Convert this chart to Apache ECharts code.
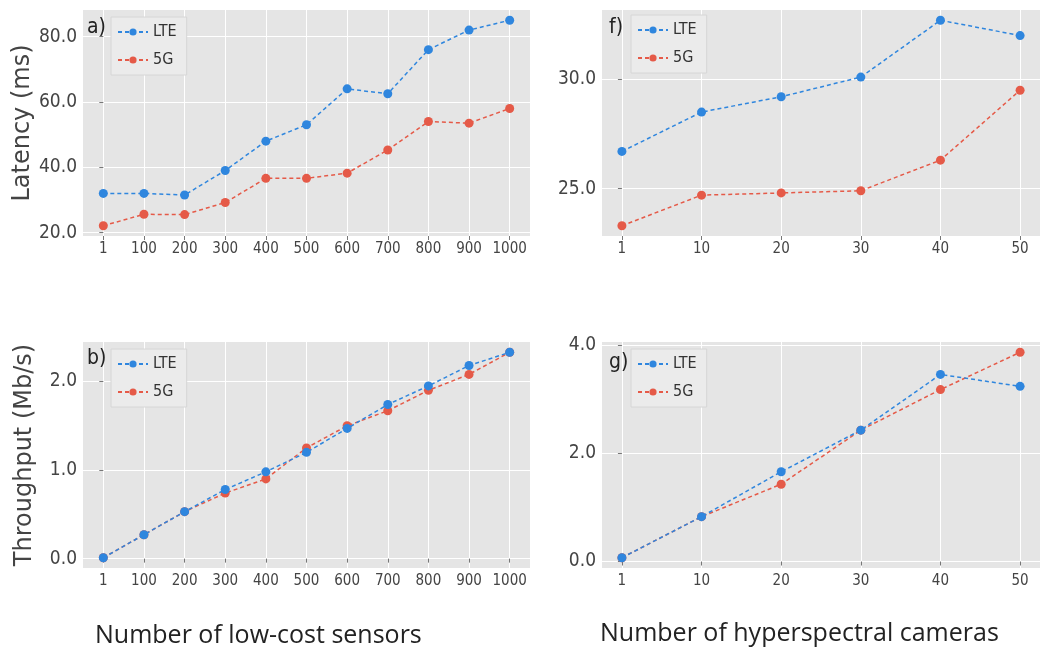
<!DOCTYPE html>
<html>
<head>
<meta charset="utf-8">
<script src="https://cdn.jsdelivr.net/npm/echarts@6/dist/echarts.min.js"></script>
<style>
html,body{margin:0;padding:0;background:#fff;}
#chart{width:1040px;height:652px;}
</style>
</head>
<body>
<div id="chart"></div>
<script>
// ---- data ----
const sensorLabels = ['1','100','200','300','400','500','600','700','800','900','1000'];
const cameraLabels = ['1','10','20','30','40','50'];

const latencySensorsLTE = [32.0, 32.0, 31.5, 39.0, 48.0, 53.0, 64.0, 62.5, 76.0, 82.0, 85.0];
const latencySensors5G  = [22.1, 25.6, 25.5, 29.2, 36.6, 36.6, 38.2, 45.3, 54.0, 53.5, 58.0];
const latencyCamerasLTE = [26.7, 28.5, 29.2, 30.1, 32.7, 32.0];
const latencyCameras5G  = [23.3, 24.7, 24.8, 24.9, 26.3, 29.5];

const thrSensorsLTE = [0.01, 0.27, 0.53, 0.78, 0.98, 1.20, 1.47, 1.74, 1.95, 2.18, 2.33];
const thrSensors5G  = [0.01, 0.27, 0.53, 0.74, 0.90, 1.25, 1.50, 1.67, 1.90, 2.08, 2.33];
const thrCamerasLTE = [0.07, 0.83, 1.66, 2.43, 3.46, 3.24];
const thrCameras5G  = [0.07, 0.83, 1.43, 2.43, 3.18, 3.87];

const latSensorTicks = [20, 40, 60, 80];
const latCameraTicks = [25, 30];
const thrSensorTicks = [0, 1, 2];
const thrCameraTicks = [0, 2, 4];

// ---- style ----
const C_LTE = '#2f86de';
const C_5G = '#e55a48';
const BG = '#e5e5e5';
const TICK_FONT = 'DejaVu Sans Condensed';
const TEXT_COLOR = '#444';

const grids = [
  {left: 83, top: 10, width: 447, height: 226},   // a
  {left: 602, top: 10, width: 446, height: 226},  // f
  {left: 83, top: 342, width: 447, height: 226},  // b
  {left: 602, top: 342, width: 446, height: 226}  // g
];

function pad(arrs) {
  const all = [].concat(...arrs);
  const lo = Math.min(...all), hi = Math.max(...all);
  const m = (hi - lo) * 0.05;
  return [lo - m, hi + m];
}

function xAxisFor(gi, labels) {
  const n = labels.length;
  const idx = labels.map((_, i) => i);
  const m = (n - 1) * 0.05;
  return {
    type: 'value', gridIndex: gi, min: -m, max: n - 1 + m,
    axisLine: {show: false},
    axisTick: {show: true, customValues: idx, length: 4, lineStyle: {color: '#777'}},
    axisLabel: {customValues: idx, formatter: v => labels[Math.round(v)], fontFamily: TICK_FONT, fontSize: 15, color: TEXT_COLOR, margin: 6},
    splitLine: {show: true, lineStyle: {color: '#ffffff', width: 1}}
  };
}

function yAxisFor(gi, ticks, range, name, nameGap) {
  return {
    type: 'value', gridIndex: gi, min: range[0], max: range[1],
    name: name || '', nameLocation: 'middle', nameGap: nameGap || 50, nameRotate: 90,
    nameTextStyle: {fontFamily: 'DejaVu Sans', fontSize: 24, color: TEXT_COLOR},
    axisLine: {show: false},
    axisTick: {show: true, customValues: ticks, length: 4, lineStyle: {color: '#777'}},
    axisLabel: {customValues: ticks, formatter: v => v.toFixed(1), fontFamily: TICK_FONT, fontSize: 19, color: TEXT_COLOR, margin: 6},
    splitLine: {show: true, lineStyle: {color: '#ffffff', width: 1.2}}
  };
}

function lineSeries(name, color, gi, values) {
  return {
    type: 'line', name: name, xAxisIndex: gi, yAxisIndex: gi,
    data: values.map((v, i) => [i, v]),
    symbol: 'circle', symbolSize: 9,
    lineStyle: {color: color, width: 1.5, type: [4, 3]},
    itemStyle: {color: color},
    emphasis: {disabled: true},
    animation: false,
    z: name === 'LTE' ? 3 : 2
  };
}

function legendFor(left, top) {
  return {
    left: left, top: top, orient: 'vertical',
    data: ['LTE', '5G'],
    itemWidth: 30, itemHeight: 9, itemGap: 12,
    backgroundColor: '#ebebeb', borderColor: '#d6d6d6', borderWidth: 1,
    padding: [7, 10, 7, 6],
    textStyle: {fontFamily: TICK_FONT, fontSize: 16, color: '#333'}
  };
}

const rangeA = pad([latencySensorsLTE, latencySensors5G]);
const rangeF = pad([latencyCamerasLTE, latencyCameras5G]);
const rangeB = pad([thrSensorsLTE, thrSensors5G]);
const rangeG = pad([thrCamerasLTE, thrCameras5G]);

const panelLabel = (text, x, y) => ({
  type: 'text', left: x, top: y, z: 100,
  style: {text: text, fontFamily: TICK_FONT, fontSize: 21, fill: '#222'}
});

const option = {
  backgroundColor: '#ffffff',
  animation: false,
  grid: grids.map(g => Object.assign({show: true, backgroundColor: BG, borderWidth: 0, containLabel: false}, g)),
  xAxis: [
    xAxisFor(0, sensorLabels),
    xAxisFor(1, cameraLabels),
    xAxisFor(2, sensorLabels),
    xAxisFor(3, cameraLabels)
  ],
  yAxis: [
    yAxisFor(0, latSensorTicks, rangeA, 'Latency (ms)', 46),
    yAxisFor(1, latCameraTicks, rangeF),
    yAxisFor(2, thrSensorTicks, rangeB, 'Throughput (Mb/s)', 46),
    yAxisFor(3, thrCameraTicks, rangeG)
  ],
  legend: [
    legendFor(111, 17),
    legendFor(631, 15),
    legendFor(111, 349),
    legendFor(631, 349)
  ],
  graphic: [
    panelLabel('a)', 87, 17),
    panelLabel('f)', 609, 17),
    panelLabel('b)', 87, 348),
    panelLabel('g)', 609, 352),
    {type: 'text', left: 95, top: 623, style: {text: 'Number of low-cost sensors', fontFamily: 'Open Sans', fontSize: 25, fill: '#222'}},
    {type: 'text', left: 600, top: 621, style: {text: 'Number of hyperspectral cameras', fontFamily: 'Open Sans', fontSize: 25, fill: '#222'}}
  ],
  series: [
    lineSeries('LTE', C_LTE, 0, latencySensorsLTE),
    lineSeries('5G', C_5G, 0, latencySensors5G),
    lineSeries('LTE', C_LTE, 1, latencyCamerasLTE),
    lineSeries('5G', C_5G, 1, latencyCameras5G),
    lineSeries('LTE', C_LTE, 2, thrSensorsLTE),
    lineSeries('5G', C_5G, 2, thrSensors5G),
    lineSeries('LTE', C_LTE, 3, thrCamerasLTE),
    lineSeries('5G', C_5G, 3, thrCameras5G)
  ]
};

const chart = echarts.init(document.getElementById('chart'), null, {renderer: 'canvas'});
chart.setOption(option);
</script>
</body>
</html>
